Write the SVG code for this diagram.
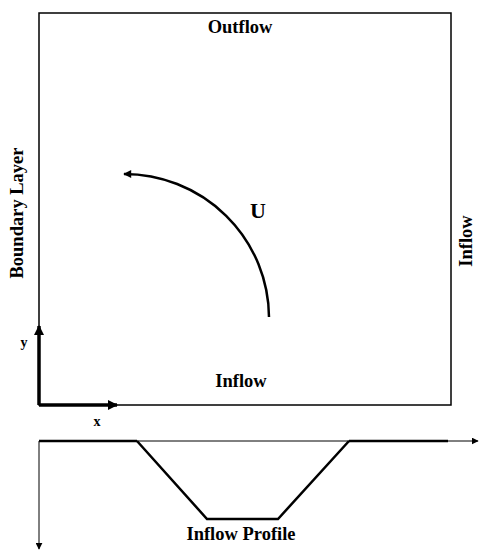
<svg xmlns="http://www.w3.org/2000/svg" width="479" height="552" viewBox="0 0 479 552">
<style>
text{font-family:"Liberation Serif","Times New Roman",serif;font-weight:bold;fill:#000}
.lbl{font-size:18.5px}
.thin{stroke:#000;stroke-width:1.5;fill:none}
.thick{stroke:#000;stroke-width:3.5;fill:none}
</style>
<defs>
<marker id="ah" viewBox="0 0 10 10" refX="9" refY="5" markerWidth="7" markerHeight="7" orient="auto" markerUnits="userSpaceOnUse">
<path d="M0,0 L10,5 L0,10 z" fill="#000"/>
</marker>
<marker id="ahb" viewBox="0 0 10 10" refX="9" refY="5" markerWidth="14" markerHeight="10" orient="auto" markerUnits="userSpaceOnUse">
<path d="M0,0 L10,5 L0,10 z" fill="#000"/>
</marker>
<marker id="ahu" viewBox="0 0 10 10" refX="9" refY="5" markerWidth="12" markerHeight="8" orient="auto" markerUnits="userSpaceOnUse">
<path d="M0,0 L10,5 L0,10 z" fill="#000"/>
</marker>
</defs>
<g id="domain">
<rect x="39" y="13" width="412" height="392" class="thin"/>
<text class="lbl" x="240" y="33" text-anchor="middle">Outflow</text>
<text class="lbl" x="241" y="387" text-anchor="middle">Inflow</text>
<text class="lbl" transform="translate(23,213) rotate(-90)" text-anchor="middle">Boundary Layer</text>
<text class="lbl" transform="translate(472,241) rotate(-90)" text-anchor="middle">Inflow</text>
</g>
<g id="axes">
<path d="M39,405 L39,326" class="thick" marker-end="url(#ahb)"/>
<path d="M39,405 L117,405" class="thick" marker-end="url(#ahb)"/>
<text x="24" y="347" font-size="14" text-anchor="middle">y</text>
<text x="97" y="426" font-size="14" text-anchor="middle">x</text>
</g>
<g id="velocity">
<path d="M269,317 A145 144 0 0 0 124,174" stroke="#000" stroke-width="2.5" fill="none" marker-end="url(#ahu)"/>
<text x="258" y="218" font-size="22" text-anchor="middle">U</text>
</g>
<g id="profile">
<path d="M39,441 L478,441" stroke="#000" stroke-width="1" fill="none" marker-end="url(#ah)"/>
<path d="M39,441 L137,441 M349,441 L448,441" stroke="#000" stroke-width="2.5" fill="none"/>
<path d="M137,441 L207,519 L278,519 L349,441" stroke="#000" stroke-width="2.5" fill="none"/>
<path d="M39,441 L39,549" stroke="#000" stroke-width="1" fill="none" marker-end="url(#ah)"/>
<text class="lbl" x="241" y="540" text-anchor="middle">Inflow Profile</text>
</g>
</svg>
